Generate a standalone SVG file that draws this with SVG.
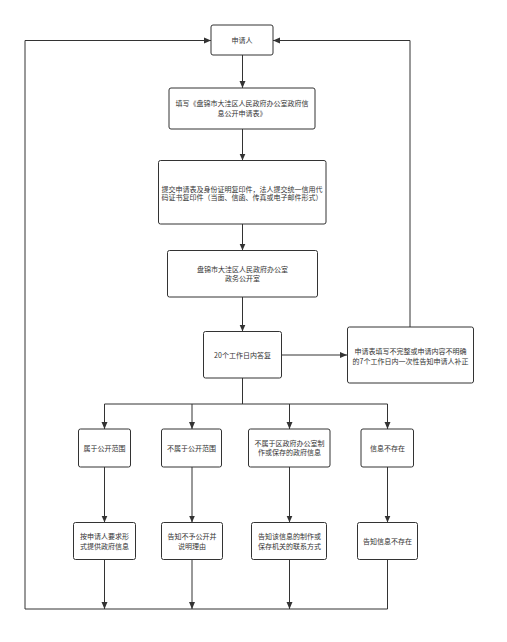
<svg xmlns="http://www.w3.org/2000/svg" width="507" height="642" viewBox="0 0 507 642">
<style>
.box{fill:#fff;stroke:#333;stroke-width:1}
.t{font-family:"Noto Sans CJK SC","Noto Sans",sans-serif;font-size:7px;fill:#333;text-anchor:middle}
.c{fill:none;stroke:#333;stroke-width:1}
.a{marker-end:url(#arr)}
</style>
<defs>
<marker id="arr" markerUnits="userSpaceOnUse" markerWidth="8" markerHeight="8" viewBox="0 0 8 8" refX="7" refY="4" orient="auto">
<path d="M0,1 L7,4 L0,7 Z" fill="#333"/>
</marker>
</defs>
<rect width="507" height="642" fill="#fff"/>
<g id="connectors">
<path class="c a" d="M242.5,55 V88"/>
<path class="c a" d="M242.5,129 V160.5"/>
<path class="c a" d="M242.5,224 V250.5"/>
<path class="c a" d="M242.5,297 V331.5"/>
<path class="c a" d="M282,355 H347"/>
<path class="c a" d="M410,327 V40.5 H273"/>
<path class="c" d="M242.5,378 V404 M104.5,404 H387.5"/>
<path class="c a" d="M104.5,404 V429"/>
<path class="c a" d="M192,404 V429"/>
<path class="c a" d="M289.5,404 V429"/>
<path class="c a" d="M387.5,404 V429"/>
<path class="c a" d="M104.5,467 V522.5"/>
<path class="c a" d="M192,467 V522.5"/>
<path class="c a" d="M289.5,467 V522.5"/>
<path class="c a" d="M387.5,467 V522.5"/>
<path class="c a" d="M104.5,559.5 V609"/>
<path class="c a" d="M192,559.5 V609"/>
<path class="c a" d="M289.5,559.5 V609"/>
<path class="c a" d="M387.5,559.5 V609 H25 V40.5 H211"/>
</g>
<g id="n1"><rect class="box" x="211" y="25" width="62" height="30" rx="2"/><text class="t" x="242" y="42.5">申请人</text></g>
<g id="n2"><rect class="box" x="169" y="88" width="146" height="41" rx="2"/><text class="t" x="242" y="106">填写《盘锦市大洼区人民政府办公室政府信</text><text class="t" x="242" y="116">息公开申请表》</text></g>
<g id="n3"><rect class="box" x="158.5" y="160.5" width="167.5" height="63.5" rx="2"/><text class="t" x="242" y="191.5">提交申请表及身份证明复印件，法人提交统一信用代</text><text class="t" x="242" y="200">码证书复印件（当面、信函、传真或电子邮件形式）</text></g>
<g id="n4"><rect class="box" x="167.5" y="250.5" width="150" height="46.5" rx="2"/><text class="t" x="242.5" y="271.5">盘锦市大洼区人民政府办公室</text><text class="t" x="242.5" y="280.5">政务公开室</text></g>
<g id="n5"><rect class="box" x="203.5" y="331.5" width="78" height="46.5" rx="2"/><text class="t" x="242.5" y="357.5">20个工作日内答复</text></g>
<g id="n6"><rect class="box" x="347.5" y="327" width="126" height="56" rx="2"/><text class="t" x="410.5" y="354">申请表填写不完整或申请内容不明确</text><text class="t" x="410.5" y="363.5">的7个工作日内一次性告知申请人补正</text></g>
<g id="nA"><rect class="box" x="78.5" y="429" width="52" height="38" rx="2"/><text class="t" x="104.5" y="450.5">属于公开范围</text></g>
<g id="nB"><rect class="box" x="161.5" y="429" width="60" height="38" rx="2"/><text class="t" x="191.5" y="450.5">不属于公开范围</text></g>
<g id="nC"><rect class="box" x="248.5" y="429" width="81.5" height="38" rx="2"/><text class="t" x="289.5" y="446">不属于区政府办公室制</text><text class="t" x="289.5" y="455">作或保存的政府信息</text></g>
<g id="nD"><rect class="box" x="361" y="429" width="52.5" height="38" rx="2"/><text class="t" x="387.5" y="450.5">信息不存在</text></g>
<g id="nA2"><rect class="box" x="73.5" y="522.5" width="62" height="37" rx="2"/><text class="t" x="104.5" y="539">按申请人要求形</text><text class="t" x="104.5" y="548.5">式提供政府信息</text></g>
<g id="nB2"><rect class="box" x="161.5" y="522.5" width="61" height="37" rx="2"/><text class="t" x="192" y="539">告知不予公开并</text><text class="t" x="192" y="548.5">说明理由</text></g>
<g id="nC2"><rect class="box" x="251.5" y="522.5" width="75" height="37" rx="2"/><text class="t" x="289.5" y="539">告知该信息的制作或</text><text class="t" x="289.5" y="548.5">保存机关的联系方式</text></g>
<g id="nD2"><rect class="box" x="357.5" y="522.5" width="60" height="37" rx="2"/><text class="t" x="387.5" y="543.5">告知信息不存在</text></g>
</svg>
